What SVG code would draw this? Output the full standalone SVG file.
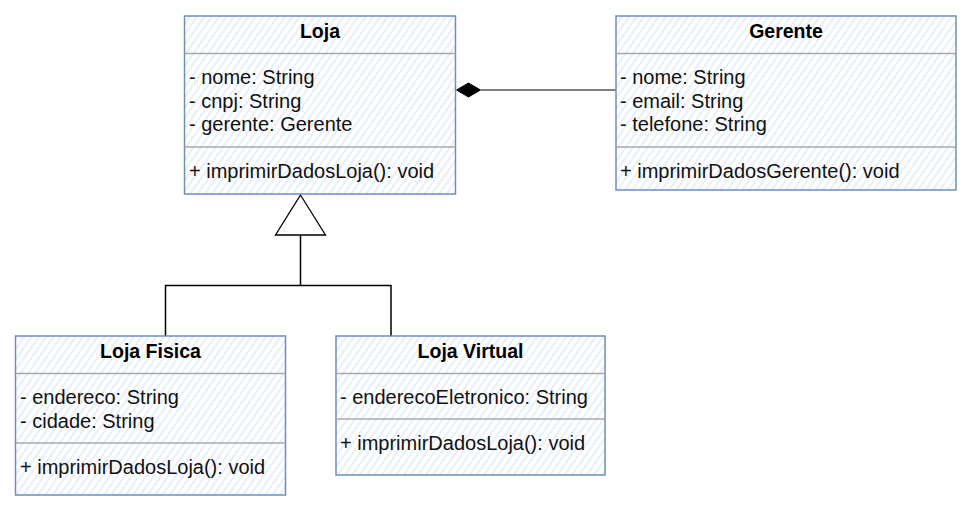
<svg xmlns="http://www.w3.org/2000/svg" width="971" height="511" viewBox="0 0 971 511">
  <defs>
    <pattern id="hatch" patternUnits="userSpaceOnUse" width="6" height="6" patternTransform="rotate(-55)">
      <rect width="6" height="6" fill="#ffffff"/>
      <line x1="0" y1="3" x2="6" y2="3" stroke="#d2dff3" stroke-width="1"/>
    </pattern>
  </defs>
  <style>
    .box { fill: url(#hatch); stroke: #6c8ebf; stroke-width: 1.5; }
    .div { stroke: #a8a8a8; stroke-width: 1.3; fill: none; }
    .t { font-family: "Liberation Sans", Arial, sans-serif; font-size: 20px; fill: #111111; }
    .h { font-family: "Liberation Sans", Arial, sans-serif; font-size: 19.5px; font-weight: bold; fill: #000000; text-anchor: middle; }
    .edge { stroke: #000000; stroke-width: 1.5; fill: none; }
    .comp { stroke: #808080; stroke-width: 2; fill: none; }
  </style>
  <rect width="971" height="511" fill="#ffffff"/>

  <g id="connectors">
    <line class="comp" x1="481" y1="90" x2="616" y2="90"/>
    <polygon points="456.5,90 468.5,83 480.5,90 468.5,97" fill="#000000" stroke="#000000" stroke-width="1"/>
    <polyline class="edge" points="165.5,336 165.5,285.5 391,285.5 391,336"/>
    <line class="edge" x1="300.5" y1="285.5" x2="300.5" y2="235"/>
    <polygon points="300.5,195 325.5,235 275.5,235" fill="#ffffff" stroke="#000000" stroke-width="1.3"/>
  </g>

  <g id="loja">
    <rect class="box" x="184.5" y="16" width="271" height="178"/>
    <line class="div" x1="184.5" y1="53.5" x2="455.5" y2="53.5"/>
    <line class="div" x1="184.5" y1="147" x2="455.5" y2="147"/>
    <text class="h" x="320" y="37.5">Loja</text>
    <text class="t" x="189" y="84">- nome: String</text>
    <text class="t" x="189" y="107.5">- cnpj: String</text>
    <text class="t" x="189" y="131">- gerente: Gerente</text>
    <text class="t" x="189" y="177.5">+ imprimirDadosLoja(): void</text>
  </g>

  <g id="gerente">
    <rect class="box" x="616" y="16" width="340" height="174"/>
    <line class="div" x1="616" y1="53.5" x2="956" y2="53.5"/>
    <line class="div" x1="616" y1="147" x2="956" y2="147"/>
    <text class="h" x="786" y="37.5">Gerente</text>
    <text class="t" x="620" y="84">- nome: String</text>
    <text class="t" x="620" y="107.5">- email: String</text>
    <text class="t" x="620" y="131">- telefone: String</text>
    <text class="t" x="620" y="177.5">+ imprimirDadosGerente(): void</text>
  </g>

  <g id="loja-fisica">
    <rect class="box" x="15.5" y="336" width="270" height="159"/>
    <line class="div" x1="15.5" y1="373.5" x2="285.5" y2="373.5"/>
    <line class="div" x1="15.5" y1="443" x2="285.5" y2="443"/>
    <text class="h" x="150.5" y="357.5">Loja Fisica</text>
    <text class="t" x="20" y="404">- endereco: String</text>
    <text class="t" x="20" y="427.5">- cidade: String</text>
    <text class="t" x="20" y="474">+ imprimirDadosLoja(): void</text>
  </g>

  <g id="loja-virtual">
    <rect class="box" x="336" y="336" width="269" height="139"/>
    <line class="div" x1="336" y1="373.5" x2="605" y2="373.5"/>
    <line class="div" x1="336" y1="419" x2="605" y2="419"/>
    <text class="h" x="470.5" y="357.5">Loja Virtual</text>
    <text class="t" x="340" y="404">- enderecoEletronico: String</text>
    <text class="t" x="340" y="449.5">+ imprimirDadosLoja(): void</text>
  </g>
</svg>
